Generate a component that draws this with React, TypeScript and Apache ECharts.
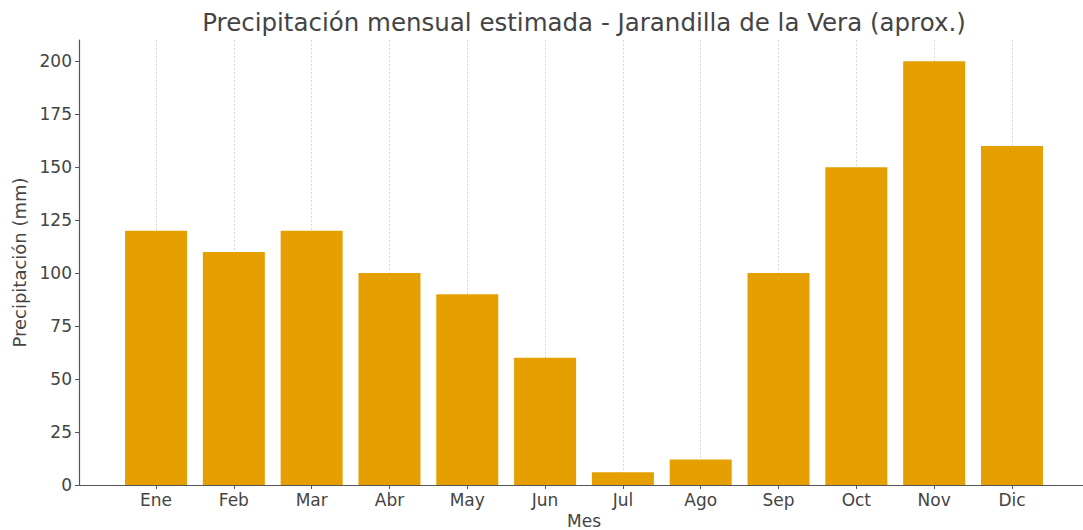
import React, { useEffect, useRef } from "react";
import * as echarts from "echarts";

const months = ["Ene", "Feb", "Mar", "Abr", "May", "Jun", "Jul", "Ago", "Sep", "Oct", "Nov", "Dic"];
const precip = [120, 110, 120, 100, 90, 60, 6, 12, 100, 150, 200, 160];
const yTicks = [0, 25, 50, 75, 100, 125, 150, 175, 200];

const FONT = "DejaVu Sans";
const TXT = "#444444";

export default function App() {
  const ref = useRef<HTMLDivElement>(null);
  useEffect(() => {
    document.body.style.margin = "0";
    const chart = echarts.init(ref.current!, null, { renderer: "svg" });
    const idx = months.map((_, i) => i);
    chart.setOption({
      animation: false,
      backgroundColor: "#ffffff",
      textStyle: { fontFamily: FONT },
      grid: { left: 79, top: 40, width: 1010, height: 445, containLabel: false, outerBoundsMode: "none" },
      graphic: [
        {
          type: "text",
          x: 584,
          y: 22,
          style: {
            text: "Precipitación mensual estimada - Jarandilla de la Vera (aprox.)",
            fontFamily: FONT,
            fontSize: 24.5,
            fill: TXT,
            textAlign: "center",
            textVerticalAlign: "middle",
          },
        },
      ],
      xAxis: {
        type: "value",
        min: -0.99,
        max: 11.99,
        name: "Mes",
        nameLocation: "middle",
        nameGap: 25,
        nameTextStyle: { fontFamily: FONT, fontSize: 17, color: TXT },
        axisLine: { show: true, onZero: false, lineStyle: { color: "#555555", width: 1.2 } },
        axisTick: { show: true, customValues: idx, length: 4, inside: false, lineStyle: { color: "#555555" } },
        axisLabel: {
          customValues: idx,
          margin: 6,
          fontFamily: FONT,
          fontSize: 17,
          color: TXT,
          formatter: (v: number) => months[Math.round(v)] ?? "",
        },
        splitLine: { show: true, lineStyle: { color: "#d0d0d0", type: [2, 2], width: 1, opacity: 0.8 } },
      },
      yAxis: {
        type: "value",
        min: 0,
        max: 210,
        name: "Precipitación (mm)",
        nameLocation: "middle",
        nameGap: 50,
        nameTextStyle: { fontFamily: FONT, fontSize: 18, color: TXT },
        axisLine: { show: true, onZero: false, lineStyle: { color: "#555555", width: 1.2 } },
        axisTick: { show: true, customValues: yTicks, length: 4, lineStyle: { color: "#555555" } },
        axisLabel: { customValues: yTicks, margin: 7, fontFamily: FONT, fontSize: 17, color: TXT },
        splitLine: { show: false },
      },
      series: [
        {
          type: "bar",
          data: precip.map((v, i) => [i, v]),
          barWidth: 62,
          itemStyle: { color: "#E69F00" },
          z: 1,
        },
      ],
    });
    return () => chart.dispose();
  }, []);
  return <div ref={ref} style={{ position: "fixed", left: 0, top: 0, width: 1083, height: 530 }} />;
}
